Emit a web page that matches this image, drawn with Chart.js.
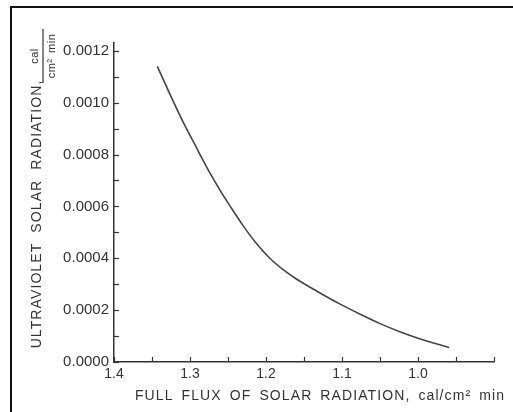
<!DOCTYPE html>
<html lang="en">
  <head>
    <meta charset="UTF-8" />
    <title>Ultraviolet vs full flux of solar radiation</title>
    <script src="https://cdn.jsdelivr.net/npm/chart.js"></script>
    <style>
      html, body { margin: 0; padding: 0; background: #fff; }
      .wrap { position: relative; width: 513px; height: 412px; overflow: hidden; }
      .frame {
        position: absolute; left: 10px; top: 6px; width: 600px; height: 500px;
        border-left: 2px solid #111; border-top: 2px solid #111;
        pointer-events: none;
      }
      canvas { position: absolute; left: 0; top: 0; }
    </style>
  </head>
  <body>
    <div class="wrap">
      <canvas id="chart" width="513" height="412"></canvas>
      <div class="frame"></div>
    </div>

    <script>
      // values
      const fluxValues = [1.343, 1.326, 1.309, 1.293, 1.274, 1.26, 1.247, 1.23, 1.212, 1.195, 1.177, 1.16, 1.133, 1.103, 1.076, 1.05, 1.024, 1.0, 0.976, 0.959];
      const uvValues = [0.00114, 0.00103, 0.000925, 0.000835, 0.00073, 0.00066, 0.0006, 0.000525, 0.000455, 0.0004, 0.000355, 0.00032, 0.000273, 0.000224, 0.000184, 0.000148, 0.000117, 0.000092, 0.00007, 0.000056];

      // axis ticks (major + minor) and the labels shown on them
      const xTickValues = [1.4, 1.35, 1.3, 1.25, 1.2, 1.15, 1.1, 1.05, 1.0, 0.95, 0.9];
      const xLabels = ["1.4", "", "1.3", "", "1.2", "", "1.1", "", "1.0", "", ""];
      const yTickValues = [0, 0.0001, 0.0002, 0.0003, 0.0004, 0.0005, 0.0006, 0.0007, 0.0008, 0.0009, 0.001, 0.0011, 0.0012];
      const yLabels = ["0.0000", "", "0.0002", "", "0.0004", "", "0.0006", "", "0.0008", "", "0.0010", "", "0.0012"];

      const ink = "#333";
      const font = "'Liberation Sans', Arial, sans-serif";

      // inward tick marks and hand-lettered titles
      const decorations = {
        id: "decorations",
        afterDraw(chart) {
          const ctx = chart.ctx;
          const x = chart.scales.x;
          const y = chart.scales.y;
          const area = chart.chartArea;

          ctx.save();
          ctx.strokeStyle = ink;
          ctx.lineWidth = 1.2;
          y.ticks.forEach((t) => {
            const py = Math.round(y.getPixelForValue(t.value)) + 0.5;
            ctx.beginPath();
            ctx.moveTo(area.left, py);
            ctx.lineTo(area.left + 5, py);
            ctx.stroke();
          });
          x.ticks.forEach((t) => {
            const px = Math.round(x.getPixelForValue(t.value)) + 0.5;
            ctx.beginPath();
            ctx.moveTo(px, area.bottom);
            ctx.lineTo(px, area.bottom - 5);
            ctx.stroke();
          });

          ctx.fillStyle = ink;
          ctx.textBaseline = "middle";
          ctx.textAlign = "center";

          // x title
          ctx.font = "14px " + font;
          ctx.letterSpacing = "1.1px";
          ctx.wordSpacing = "3px";
          ctx.fillText("FULL FLUX OF SOLAR RADIATION, cal/cm\u00b2 min", 320, 396);

          // y title, rotated
          ctx.save();
          ctx.translate(37, 214);
          ctx.rotate(-Math.PI / 2);
          ctx.font = "14px " + font;
          ctx.letterSpacing = "1.1px";
          ctx.wordSpacing = "5px";
          ctx.fillText("ULTRAVIOLET SOLAR RADIATION,", 0, 0);
          ctx.restore();

          // fraction cal / cm2 min
          ctx.save();
          ctx.translate(43, 56);
          ctx.rotate(-Math.PI / 2);
          ctx.font = "11px " + font;
          ctx.letterSpacing = "0.5px";
          ctx.wordSpacing = "2px";
          ctx.fillText("cal", 0, -8);
          ctx.fillText("cm\u00b2 min", 0, 9);
          ctx.beginPath();
          ctx.moveTo(-27, 0);
          ctx.lineTo(27, 0);
          ctx.lineWidth = 1.2;
          ctx.stroke();
          ctx.restore();

          ctx.restore();
        },
      };

      new Chart(document.getElementById("chart"), {
        type: "scatter",
        data: {
          datasets: [
            {
              data: fluxValues.map((f, i) => ({ x: f, y: uvValues[i] })),
              showLine: true,
              borderColor: "#444",
              borderWidth: 1.6,
              pointRadius: 0,
              cubicInterpolationMode: "monotone",
            },
          ],
        },
        options: {
          responsive: false,
          animation: false,
          layout: { padding: { top: 43, right: 19, left: 0, bottom: 0 } },
          plugins: { legend: { display: false }, tooltip: { enabled: false } },
          scales: {
            x: {
              type: "linear",
              reverse: true,
              min: 0.9,
              max: 1.4,
              afterFit: (s) => { s.height = 50; },
              afterBuildTicks: (s) => {
                s.ticks = xTickValues.map((value) => ({ value }));
              },
              border: { display: true, color: ink, width: 1.5 },
              grid: { display: false, drawTicks: false },
              ticks: {
                padding: 4,
                color: ink,
                font: { family: font, size: 14 },
                maxRotation: 0,
                autoSkip: false,
                callback: (v, i) => xLabels[i],
              },
            },
            y: {
              min: 0,
              max: 0.00123,
              afterFit: (s) => { s.width = 114; },
              afterBuildTicks: (s) => {
                s.ticks = yTickValues.map((value) => ({ value }));
              },
              border: { display: true, color: ink, width: 1.5 },
              grid: { display: false, drawTicks: false },
              ticks: {
                padding: 5,
                color: ink,
                font: { family: font, size: 15 },
                autoSkip: false,
                callback: (v, i) => yLabels[i],
              },
            },
          },
        },
        plugins: [decorations],
      });
    </script>
  </body>
</html>
